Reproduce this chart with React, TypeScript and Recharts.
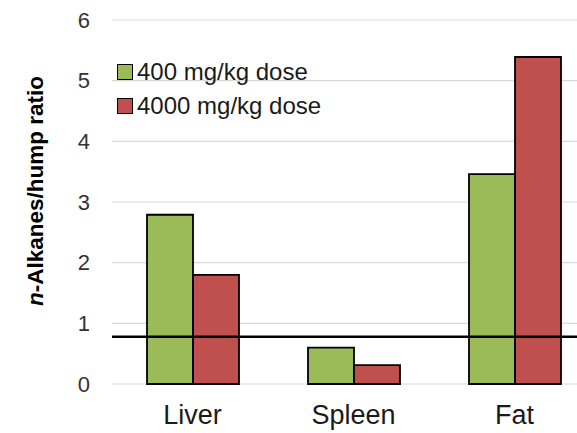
import {
  Bar,
  BarChart,
  CartesianGrid,
  Label,
  Legend,
  ReferenceLine,
  XAxis,
  YAxis,
} from 'recharts';

const tissues = ['Liver', 'Spleen', 'Fat'];
const lowDose = [2.79, 0.6, 3.46];
const highDose = [1.8, 0.31, 5.39];
const yTicks = [0, 1, 2, 3, 4, 5, 6];
const threshold = 0.78;

const data = tissues.map((tissue, i) => ({ tissue, low: lowDose[i], high: highDose[i] }));

const FONT = '"Liberation Sans", Arial, sans-serif';

function SwatchLegend({ payload }: { payload?: Array<{ value: string; color: string }> }) {
  if (!payload) {
    return null;
  }
  return (
    <div style={{ fontFamily: FONT, fontSize: 24, color: '#1a1a1a', lineHeight: '34px' }}>
      {payload.map((entry) => (
        <div key={entry.value} style={{ display: 'flex', alignItems: 'center', whiteSpace: 'nowrap' }}>
          <span
            style={{
              display: 'inline-block',
              width: 14,
              height: 14,
              background: entry.color,
              border: '1px solid #000',
              marginRight: 4,
            }}
          />
          {entry.value}
        </div>
      ))}
    </div>
  );
}

function AxisTitle({ viewBox }: { viewBox?: { x: number; y: number; width: number; height: number } }) {
  const cy = viewBox ? viewBox.y + viewBox.height / 2 - 11 : 191;
  return (
    <text
      x={35}
      y={cy}
      transform={`rotate(-90, 35, ${cy})`}
      textAnchor="middle"
      dominantBaseline="central"
      fontFamily={FONT}
      fontSize={22.5}
      fontWeight="bold"
      fill="#000"
    >
      <tspan fontStyle="italic">n</tspan>
      <tspan>-Alkanes/hump ratio</tspan>
    </text>
  );
}

export default function App() {
  return (
    <div style={{ position: 'absolute', left: 0, top: 0, width: 577, height: 433, overflow: 'hidden', background: '#fff' }}>
      <BarChart
        width={610}
        height={433}
        data={data}
        barGap={0}
        margin={{ top: 20, right: 15, bottom: 0, left: 0 }}
      >
        <CartesianGrid vertical={false} stroke="#d9d9d9" strokeWidth={1.2} />
        <XAxis
          dataKey="tissue"
          height={49}
          axisLine={false}
          tickLine={false}
          tickSize={0}
          tickMargin={21}
          tick={{ fontFamily: FONT, fontSize: 27, fill: '#1a1a1a' }}
        />
        <YAxis
          width={112}
          domain={[0, 6]}
          ticks={yTicks}
          axisLine={false}
          tickLine={false}
          tickSize={0}
          tickMargin={22}
          tick={{ fontFamily: FONT, fontSize: 22, fill: '#333' }}
        >
          <Label content={<AxisTitle />} />
        </YAxis>
        <Legend
          layout="vertical"
          align="center"
          verticalAlign="middle"
          wrapperStyle={{ left: 117, top: 55, width: 'auto' }}
          content={<SwatchLegend />}
        />
        <Bar dataKey="low" name="400 mg/kg dose" fill="#9bbb59" stroke="#000" strokeWidth={1.8} barSize={46} isAnimationActive={false} />
        <Bar dataKey="high" name="4000 mg/kg dose" fill="#c0504d" stroke="#000" strokeWidth={1.8} barSize={46} isAnimationActive={false} />
        <ReferenceLine y={threshold} stroke="#000" strokeWidth={2.5} />
      </BarChart>
    </div>
  );
}
